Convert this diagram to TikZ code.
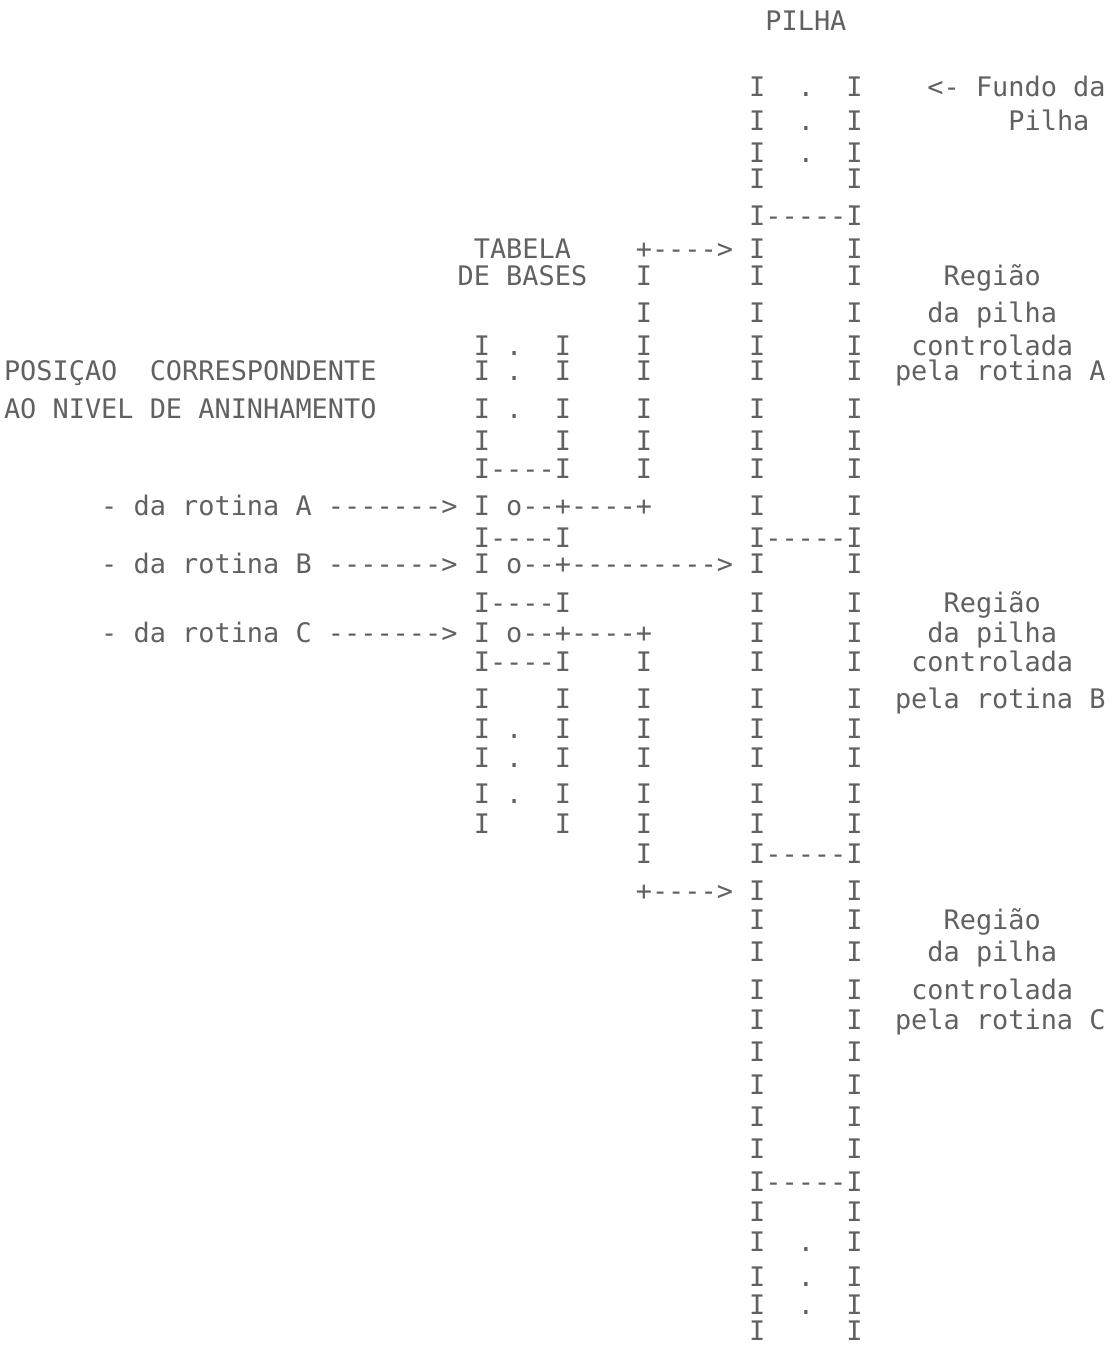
\documentclass[tikz,border=0pt]{standalone}
\usepackage{fontspec}
\newfontfamily\matriz{DejaVu Sans Mono}
\usetikzlibrary{positioning}
\tikzset{
	every node/.style={inner sep=0pt, outer sep=0pt},
	linha/.style={anchor=base west, font=\matriz\fontsize{13.45pt}{14pt}\selectfont\frenchspacing, text=black!62},
}

\begin{document}
\begin{tikzpicture}[x=8.1pt, y=-0.5pt]
			\useasboundingbox (-29.25,0) rectangle (39.88,1346);
			
			\node[linha] (titulo) at (18,30) {PILHA};
			\node[linha] (p1) at (17,96) {I~~.~~I};
			\node[linha] (fundo) at (28,96) {<-~Fundo~da};
			\node[linha] (p2) at (17,130) {I~~.~~I};
			\node[linha] (fundo2) at (33,130) {Pilha};
			\node[linha] (p3) at (17,162) {I~~.~~I};
			\node[linha] (p4) at (17,188) {I~~~~~I};
			\node[linha] (p5) at (17,225) {I-----I};
			
			\node[linha] (tabela) at (0,258) {TABELA};
			\node[linha] (p6) at (10,258) {+---->~I~~~~~I};
			\node[linha] (bases) at (-1,285) {DE~BASES};
			\node[linha] (p7) at (10,285) {I~~~~~~I~~~~~I};
			\node[linha] (regA1) at (29,285) {Região};
			\node[linha] (p8) at (10,322) {I~~~~~~I~~~~~I};
			\node[linha] (regA2) at (28,322) {da~pilha};
			\node[linha] (p9) at (0,355) {I~.~~I~~~~I~~~~~~I~~~~~I};
			\node[linha] (regA3) at (27,355) {controlada};
			\node[linha] (posicao) at (-29,380) {POSIÇAO~~CORRESPONDENTE};
			\node[linha] (p10) at (0,380) {I~.~~I~~~~I~~~~~~I~~~~~I};
			\node[linha] (regA4) at (26,380) {pela~rotina~A};
			\node[linha] (nivel) at (-29,418) {AO~NIVEL~DE~ANINHAMENTO};
			\node[linha] (p11) at (0,418) {I~.~~I~~~~I~~~~~~I~~~~~I};
			\node[linha] (p12) at (0,450) {I~~~~I~~~~I~~~~~~I~~~~~I};
			\node[linha] (p13) at (0,478) {I----I~~~~I~~~~~~I~~~~~I};
			
			\node[linha] (rotA) at (-23,515) {-~da~rotina~A~------->};
			\node[linha] (p14) at (0,515) {I~o--+----+~~~~~~I~~~~~I};
			\node[linha] (p15) at (0,547) {I----I~~~~~~~~~~~I-----I};
			\node[linha] (rotB) at (-23,573) {-~da~rotina~B~------->};
			\node[linha] (p16) at (0,573) {I~o--+--------->~I~~~~~I};
			\node[linha] (p17) at (0,612) {I----I~~~~~~~~~~~I~~~~~I};
			\node[linha] (regB1) at (29,612) {Região};
			\node[linha] (rotC) at (-23,642) {-~da~rotina~C~------->};
			\node[linha] (p18) at (0,642) {I~o--+----+~~~~~~I~~~~~I};
			\node[linha] (regB2) at (28,642) {da~pilha};
			\node[linha] (p19) at (0,671) {I----I~~~~I~~~~~~I~~~~~I};
			\node[linha] (regB3) at (27,671) {controlada};
			\node[linha] (p20) at (0,708) {I~~~~I~~~~I~~~~~~I~~~~~I};
			\node[linha] (regB4) at (26,708) {pela~rotina~B};
			\node[linha] (p21) at (0,738) {I~.~~I~~~~I~~~~~~I~~~~~I};
			\node[linha] (p22) at (0,767) {I~.~~I~~~~I~~~~~~I~~~~~I};
			\node[linha] (p23) at (0,803) {I~.~~I~~~~I~~~~~~I~~~~~I};
			\node[linha] (p24) at (0,833) {I~~~~I~~~~I~~~~~~I~~~~~I};
			\node[linha] (p25) at (10,863) {I~~~~~~I-----I};
			\node[linha] (p26) at (10,900) {+---->~I~~~~~I};
			
			\node[linha] (p27) at (17,929) {I~~~~~I};
			\node[linha] (regC1) at (29,929) {Região};
			\node[linha] (p28) at (17,961) {I~~~~~I};
			\node[linha] (regC2) at (28,961) {da~pilha};
			\node[linha] (p29) at (17,999) {I~~~~~I};
			\node[linha] (regC3) at (27,999) {controlada};
			\node[linha] (p30) at (17,1029) {I~~~~~I};
			\node[linha] (regC4) at (26,1029) {pela~rotina~C};
			\node[linha] (p31) at (17,1061) {I~~~~~I};
			\node[linha] (p32) at (17,1094) {I~~~~~I};
			\node[linha] (p33) at (17,1126) {I~~~~~I};
			\node[linha] (p34) at (17,1158) {I~~~~~I};
			\node[linha] (p35) at (17,1191) {I-----I};
			\node[linha] (p36) at (17,1221) {I~~~~~I};
			\node[linha] (p37) at (17,1251) {I~~.~~I};
			\node[linha] (p38) at (17,1286) {I~~.~~I};
			\node[linha] (p39) at (17,1314) {I~~.~~I};
			\node[linha] (p40) at (17,1340) {I~~~~~I};
		\end{tikzpicture}
\end{document}
